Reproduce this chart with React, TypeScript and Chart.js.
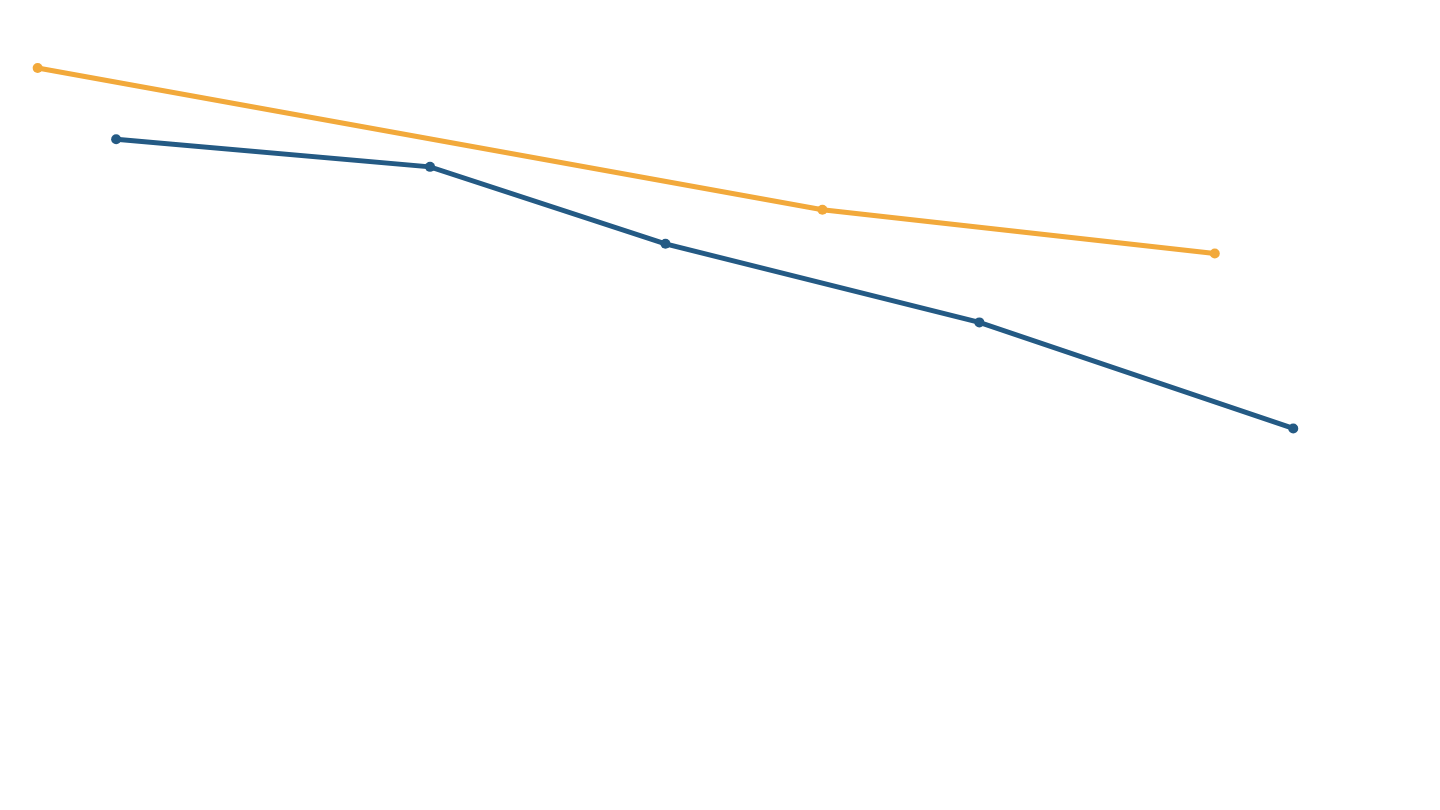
import React, { useEffect, useRef } from 'react'
import { Chart, registerables } from 'chart.js'

Chart.register(...registerables)

const orangeYears = [2000, 2010, 2015]
const orangeValues = [91.6, 74.1, 68.7]

const blueYears = [2001, 2005, 2008, 2012, 2016]
const blueValues = [82.8, 79.4, 69.9, 60.2, 47.1]

const ORANGE = '#F2A93B'
const BLUE = '#245A84'

const App: React.FC = () => {
	const chartRef = useRef<HTMLCanvasElement>(null)

	useEffect(() => {
		if (!chartRef.current) return
		const context = chartRef.current.getContext('2d')
		if (!context) return

		const lineChart = new Chart(context, {
			type: 'line',
			data: {
				datasets: [
					{
						label: 'Orange',
						data: orangeYears.map((x, i) => ({ x, y: orangeValues[i] })),
						borderColor: ORANGE,
						backgroundColor: ORANGE,
						borderWidth: 5,
						pointRadius: 5,
						pointBorderWidth: 0,
						tension: 0,
					},
					{
						label: 'Blue',
						data: blueYears.map((x, i) => ({ x, y: blueValues[i] })),
						borderColor: BLUE,
						backgroundColor: BLUE,
						borderWidth: 5,
						pointRadius: 5,
						pointBorderWidth: 0,
						tension: 0,
					},
				],
			},
			options: {
				animation: false,
				responsive: true,
				maintainAspectRatio: false,
				layout: { padding: 0, autoPadding: false },
				plugins: {
					legend: { display: false },
					tooltip: { enabled: false },
					title: { display: false },
				},
				scales: {
					x: {
						type: 'linear',
						display: false,
						min: 1999.52,
						max: 2017.87,
					},
					y: {
						display: false,
						min: 0,
						max: 100,
					},
				},
			},
		})

		return () => {
			lineChart.destroy()
		}
	}, [])

	return (
		<div style={{ position: 'fixed', left: 0, top: 0, width: 1440, height: 810, background: '#fff' }}>
			<canvas ref={chartRef} />
		</div>
	)
}

export default App
